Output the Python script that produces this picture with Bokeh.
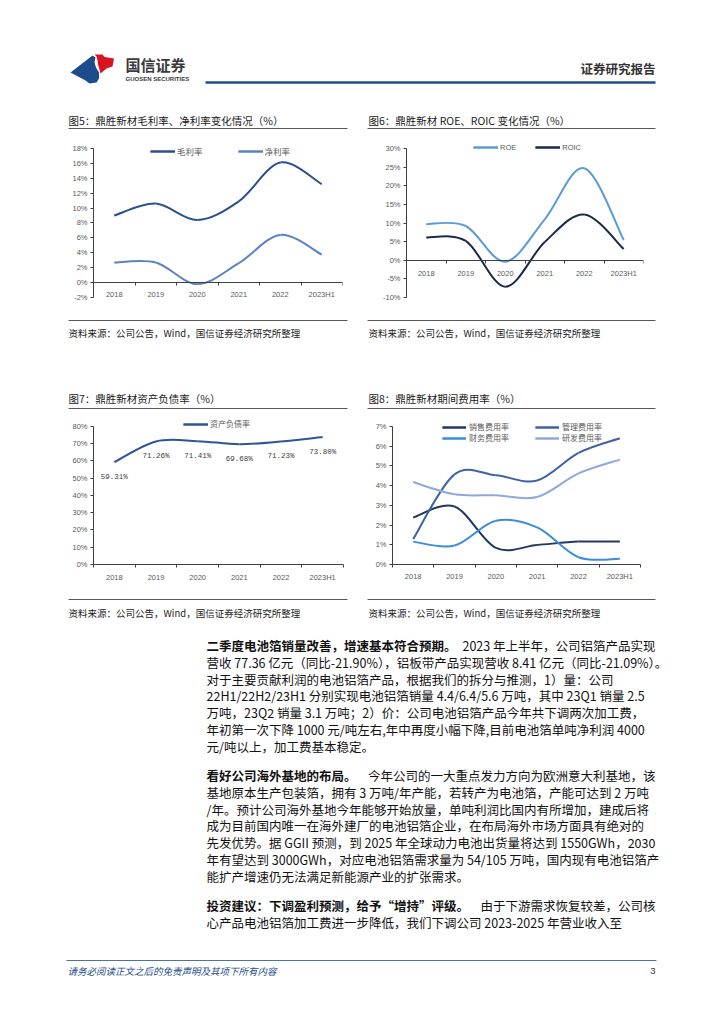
from bokeh.plotting import figure
from bokeh.models import Range1d, LinearAxis, FixedTicker, Legend, LegendItem, Spacer, PrintfTickFormatter
from bokeh.layouts import column, row
from bokeh.embed import file_html
from bokeh.resources import INLINE
from bokeh.core.properties import value

# ---------------- data ----------------
years = ["2018", "2019", "2020", "2021", "2022", "2023H1"]
gross_margin = [9.0, 10.6, 8.4, 10.9, 16.1, 13.2]      # 毛利率 %
net_margin = [2.7, 2.7, -0.2, 2.6, 6.4, 3.75]          # 净利率 %
roe = [9.7, 9.2, -0.4, 11.0, 24.7, 5.4]                # ROE %
roic = [6.1, 5.2, -7.1, 4.9, 12.3, 3.0]                # ROIC %
debt_ratio = [59.31, 71.26, 71.41, 69.68, 71.23, 73.80]  # 资产负债率 %
debt_labels = ["59.31%", "71.26%", "71.41%", "69.68%", "71.23%", "73.80%"]
selling_exp = [2.38, 2.94, 0.84, 0.99, 1.16, 1.16]     # 销售费用率
admin_exp = [1.29, 4.57, 4.52, 4.26, 5.66, 6.40]       # 管理费用率
finance_exp = [1.16, 0.96, 2.22, 1.88, 0.37, 0.29]     # 财务费用率
rnd_exp = [4.18, 3.56, 3.51, 3.42, 4.62, 5.32]         # 研发费用率

CJK = "Noto Sans CJK SC"
LAT = "Liberation Sans"
SOURCE = "资料来源：公司公告，Wind，国信证券经济研究所整理"

para1 = [
    ("二季度电池箔销量改善，增速基本符合预期。", "2023 年上半年，公司铝箔产品实现"),
    (None, "营收 77.36 亿元（同比-21.90%），铝板带产品实现营收 8.41 亿元（同比-21.09%）。"),
    (None, "对于主要贡献利润的电池铝箔产品，根据我们的拆分与推测，1）量：公司"),
    (None, "22H1/22H2/23H1 分别实现电池铝箔销量 4.4/6.4/5.6 万吨，其中 23Q1 销量 2.5"),
    (None, "万吨，23Q2 销量 3.1 万吨；2）价：公司电池铝箔产品今年共下调两次加工费，"),
    (None, "年初第一次下降 1000 元/吨左右,年中再度小幅下降,目前电池箔单吨净利润 4000"),
    (None, "元/吨以上，加工费基本稳定。"),
]
para2 = [
    ("看好公司海外基地的布局。", "今年公司的一大重点发力方向为欧洲意大利基地，该"),
    (None, "基地原本生产包装箔，拥有 3 万吨/年产能，若转产为电池箔，产能可达到 2 万吨"),
    (None, "/年。预计公司海外基地今年能够开始放量，单吨利润比国内有所增加，建成后将"),
    (None, "成为目前国内唯一在海外建厂的电池铝箔企业，在布局海外市场方面具有绝对的"),
    (None, "先发优势。据 GGII 预测，到 2025 年全球动力电池出货量将达到 1550GWh，2030"),
    (None, "年有望达到 3000GWh，对应电池铝箔需求量为 54/105 万吨，国内现有电池铝箔产"),
    (None, "能扩产增速仍无法满足新能源产业的扩张需求。"),
]
para3 = [
    ("投资建议：下调盈利预测，给予“增持”评级。", "由于下游需求恢复较差，公司核"),
    (None, "心产品电池铝箔加工费进一步降低，我们下调公司 2023-2025 年营业收入至"),
]

PAGE_W = 720


# ---------------- helpers ----------------
def page_fig(h, ytop, ybot):
    p = figure(width=PAGE_W, height=h, x_range=Range1d(0, PAGE_W), y_range=Range1d(ybot, ytop),
               output_backend="svg", toolbar_location=None,
               x_axis_location=None, y_axis_location=None, min_border=0)
    p.outline_line_color = None
    p.grid.visible = False
    return p


def txt(p, x, y, s, size, color="#1a1a1a", font=CJK, style="normal", align="left"):
    p.text(x=[x], y=[y], text=[s], text_font=value(font), text_font_size=size,
           text_color=color, text_font_style=style, text_align=align, text_baseline="middle")


def hline(p, x0, x1, y, color="#595959", width=1.0):
    p.segment(x0=[x0], y0=[y], x1=[x1], y1=[y], line_color=color, line_width=width)


def chart(width, height, left, right, top, bottom, ylo, yhi, ystep, zero_axis, xstandoff, pad=7):
    frame_h = height - top - bottom
    y_end = yhi + pad * (yhi - ylo) / frame_h   # head-room above the axis for the legend
    p = figure(width=width, height=height, x_range=Range1d(-0.5, 5.5), y_range=Range1d(ylo, y_end),
               output_backend="svg", toolbar_location=None,
               x_axis_location=None, y_axis_location=None,
               min_border_left=left, min_border_right=right,
               min_border_top=top - pad, min_border_bottom=bottom)
    p.outline_line_color = None
    p.grid.visible = False
    yax = LinearAxis(ticker=FixedTicker(ticks=list(range(ylo, yhi + 1, ystep))),
                     formatter=PrintfTickFormatter(format="%d%%"), bounds=(ylo, yhi))
    yax.axis_line_color = "#404040"
    yax.major_tick_line_color = "#404040"
    yax.major_tick_out = 3
    yax.major_tick_in = 0
    yax.minor_tick_out = 0
    yax.minor_tick_in = 0
    yax.major_label_standoff = 3
    yax.major_label_text_font = LAT
    yax.major_label_text_font_size = "7.5px"
    yax.major_label_text_color = "#595959"
    p.add_layout(yax, "left")
    xax = LinearAxis(ticker=FixedTicker(ticks=list(range(len(years))),
                                        minor_ticks=[i - 0.5 for i in range(len(years) + 1)]),
                     major_label_overrides={i: years[i] for i in range(len(years))})
    if zero_axis:
        xax.fixed_location = 0
    xax.axis_line_color = "#404040"
    xax.major_tick_out = 0
    xax.major_tick_in = 0
    xax.minor_tick_out = 3
    xax.minor_tick_in = 0
    xax.minor_tick_line_color = "#404040"
    xax.major_label_standoff = xstandoff
    xax.major_label_text_font = LAT
    xax.major_label_text_font_size = "7.5px"
    xax.major_label_text_color = "#595959"
    p.add_layout(xax, "below")
    return p


def smooth(p, ys, color, width=2.0):
    xs = list(range(len(ys)))
    n = len(xs)
    seg = {k: [] for k in ("x0", "y0", "x1", "y1", "cx0", "cy0", "cx1", "cy1")}
    for i in range(n - 1):
        xm, ym = (xs[i - 1], ys[i - 1]) if i > 0 else (xs[i], ys[i])
        xp, yp = (xs[i + 2], ys[i + 2]) if i + 2 < n else (xs[i + 1], ys[i + 1])
        seg["x0"].append(xs[i]); seg["y0"].append(ys[i])
        seg["x1"].append(xs[i + 1]); seg["y1"].append(ys[i + 1])
        seg["cx0"].append(xs[i] + (xs[i + 1] - xm) / 6.0)
        seg["cy0"].append(ys[i] + (ys[i + 1] - ym) / 6.0)
        seg["cx1"].append(xs[i + 1] - (xp - xs[i]) / 6.0)
        seg["cy1"].append(ys[i + 1] - (yp - ys[i]) / 6.0)
    bez = p.bezier(line_color=color, line_width=width, **seg)
    # one-point line: draws nothing in the plot, only gives the legend its line swatch
    key = p.line(x=xs[:1], y=ys[:1], line_color=color, line_width=width)
    return [bez, key]


def legend(p, items, loc, orientation="horizontal", spacing=10, font=CJK, size="8px", gw=25, stand=2):
    lg = Legend(items=[LegendItem(label=l, renderers=r) for l, r in items],
                location=loc, orientation=orientation, spacing=spacing,
                border_line_color=None, background_fill_alpha=0, padding=0, margin=0,
                glyph_width=gw, glyph_height=10, label_height=10, label_width=5,
                label_standoff=stand, label_text_font=font, label_text_font_size=size,
                label_text_color="#595959")
    p.add_layout(lg)
    return lg


# ---------------- top page part (header + titles of fig 5/6) ----------------
top = page_fig(140, 0, 140)
top.patch(x=[70, 92, 95, 94, 95.5, 98.5, 98.5, 96, 89, 85], y=[72, 55, 57, 62, 67, 72, 78, 82, 83, 80],
          fill_color="#1d4c8c", line_color=None)
top.patch(x=[94, 102, 104, 113.5, 112, 106, 100, 99, 97.5, 97, 96], y=[54, 54, 56.5, 58, 66, 68, 73, 69, 64, 60, 56],
          fill_color="#d7141f", line_color=None)
txt(top, 125, 64, "国信证券", "15px", color="#3a3a3a", style="bold")
txt(top, 125, 78, "GUOSEN SECURITIES", "6px", color="#3a3a3a", font=LAT, style="bold")
txt(top, 655, 68, "证券研究报告", "12.5px", color="#333333", style="bold", align="right")
hline(top, 205, 655, 82, color="#1f4e8c", width=2.6)
txt(top, 68, 120, "图5：鼎胜新材毛利率、净利率变化情况（%）", "10.5px")
hline(top, 68, 347, 128)
txt(top, 368, 120, "图6：鼎胜新材 ROE、ROIC 变化情况（%）", "10.5px")
hline(top, 367, 655, 128)

# ---------------- figure 5 ----------------
c5 = chart(298, 170, 33, 16, 8, 11, -2, 18, 2, True, 4)
r1 = smooth(c5, gross_margin, "#2c4f8e")
r2 = smooth(c5, net_margin, "#5b82c2")
legend(c5, [("毛利率", r1), ("净利率", r2)], (57, 140), spacing=35, size="8.5px")

# ---------------- figure 6 ----------------
c6 = chart(300, 170, 48, 15, 8, 13, -10, 30, 5, True, 6)
r3 = smooth(c6, roe, "#5b9bd5")
r4 = smooth(c6, roic, "#1c2a48")
legend(c6, [("ROE", r3), ("ROIC", r4)], (67, 145), spacing=19, font=LAT, size="7.5px")

# ---------------- middle page part ----------------
mid = page_fig(107, 310, 417)
hline(mid, 68, 347, 320)
txt(mid, 68, 332, SOURCE, "9.5px")
hline(mid, 367, 655, 320)
txt(mid, 368, 332, SOURCE, "9.5px")
txt(mid, 68, 398, "图7：鼎胜新材资产负债率（%）", "10.5px")
hline(mid, 68, 347, 408)
txt(mid, 368, 398, "图8：鼎胜新材期间费用率（%）", "10.5px")
hline(mid, 367, 655, 408)

# ---------------- figure 7 ----------------
c7 = chart(298, 173, 33, 15, 9, 22, 0, 80, 10, False, 5)
r5 = smooth(c7, debt_ratio, "#2f5597")
c7.text(x=list(range(len(years))), y=debt_ratio, text=debt_labels, y_offset=15,
        text_align="center", text_baseline="middle", text_font=value("Liberation Mono"),
        text_font_size="7.5px", text_color="#404040")
legend(c7, [("资产负债率", r5)], (90, 135), size="8px")

# ---------------- figure 8 ----------------
c8 = chart(300, 173, 34, 18, 8, 26, 0, 7, 1, False, 4)
r6 = smooth(c8, selling_exp, "#1f3864")
r7 = smooth(c8, admin_exp, "#3d62a3")
r8 = smooth(c8, finance_exp, "#3a8ddb")
r9 = smooth(c8, rnd_exp, "#8fa8dc")
legend(c8, [("销售费用率", r6), ("财务费用率", r8)], (50, 121), orientation="vertical", spacing=-1, gw=24, stand=3)
legend(c8, [("管理费用率", r7), ("研发费用率", r9)], (143, 121), orientation="vertical", spacing=-1, gw=24, stand=3)

# ---------------- bottom page part ----------------
bot = page_fig(430, 590, 1020)
hline(bot, 68, 347, 599)
txt(bot, 68, 612, SOURCE, "9.5px")
hline(bot, 367, 655, 599)
txt(bot, 368, 612, SOURCE, "9.5px")

BODY = "12.5px"
LH = 16.8


def paragraph(lines, y0):
    for i, (b, r) in enumerate(lines):
        y = y0 + i * LH
        if b is not None:
            txt(bot, 206, y, b, BODY, color="#111111", style="bold")
            txt(bot, 655, y, r, BODY, color="#111111", align="right")
        else:
            txt(bot, 206, y, r, BODY, color="#111111")


paragraph(para1, 645)
paragraph(para2, 775)
paragraph(para3, 905)

hline(bot, 66, 656, 960, color="#4a74a8", width=1.0)
txt(bot, 67, 970, "请务必阅读正文之后的免责声明及其项下所有内容", "9.5px", color="#1f4e8c", style="italic")
txt(bot, 655, 970, "3", "9.5px", color="#333333", font=LAT, align="right")

layout = column(
    top,
    row(Spacer(width=60, height=170), c5, c6),
    mid,
    row(Spacer(width=60, height=173), c7, c8),
    bot,
)

open("out.html", "w").write(file_html(layout, INLINE))
